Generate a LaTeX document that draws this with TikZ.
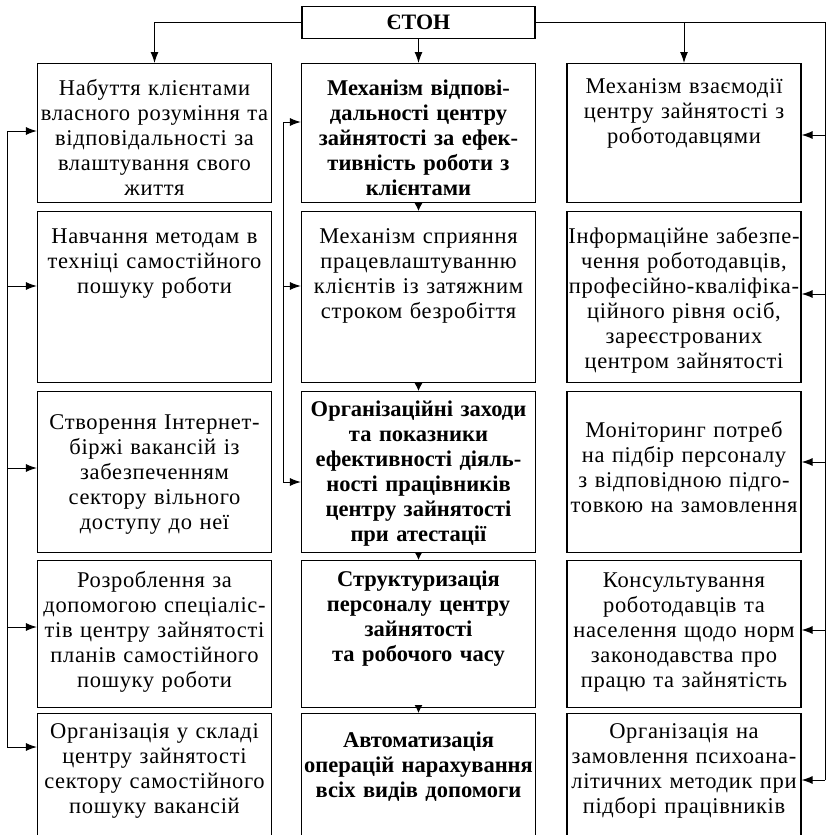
\documentclass[tikz,border=0pt]{standalone}
\usepackage{fontspec}
\setmainfont{Liberation Serif}[LetterSpace=3,BoldFeatures={LetterSpace=0}]
\usetikzlibrary{arrows.meta}

\begin{document}
\begin{tikzpicture}[x=1pt,y=-1pt,
	box/.style={draw,line width=1.2pt,inner ysep=0pt,inner xsep=-4pt,text width=242pt,align=center,anchor=north,font=\fontsize{22.5}{25}\selectfont},
	bbox/.style={box,font=\fontsize{22.5}{25}\selectfont\bfseries},
	ln/.style={line width=1pt},
	arr/.style={line width=1pt,-{Latex[length=11pt,width=8pt]}},
	tip/.style={line width=1pt,-{Latex[length=8pt,width=8pt]}}]
	\useasboundingbox (0,0) rectangle (833,835);
	\clip (0,0) rectangle (833,835);

	% head
	\node[draw,line width=1.2pt,inner sep=0pt,minimum width=233pt,minimum height=32pt,font=\fontsize{22}{25}\selectfont\bfseries] (eton) at (418.5,22.5) {ЄТОН};

	% left column
	\node[box,text height=32pt,text depth=107pt] (l1) at (154.5,63) {Набуття клієнтами\\ власного розуміння та\\ відповідальності за\\ влаштування свого\\ життя};
	\node[box,text height=32pt,text depth=139pt] (l2) at (154.5,211) {Навчання методам в\\ техніці самостійного\\ пошуку роботи};
	\node[box,text height=38pt,text depth=123pt] (l3) at (154.5,391) {Створення Інтернет-\\ біржі вакансій із\\ забезпеченням\\ сектору вільного\\ доступу до неї};
	\node[box,text height=27pt,text depth=120pt] (l4) at (154.5,560) {Розроблення за\\ допомогою спеціаліс-\\ тів центру зайнятості\\ планів самостійного\\ пошуку роботи};
	\node[box,text height=25pt,text depth=125pt] (l5) at (154.5,713) {Організація у складі\\ центру зайнятості\\ сектору самостійного\\ пошуку вакансій};

	% centre column
	\node[bbox,text height=32pt,text depth=107pt] (c1) at (418.5,63) {Механізм відпові-\\ дальності центру\\ зайнятості за ефек-\\ тивність роботи з\\ клієнтами};
	\node[box,text height=32pt,text depth=139pt] (c2) at (418.5,211) {Механізм сприяння\\ працевлаштуванню\\ клієнтів із затяжним\\ строком безробіття};
	\node[bbox,text height=25pt,text depth=136pt] (c3) at (418.5,391) {Організаційні заходи\\ та показники\\ ефективності діяль-\\ ності працівників\\ центру зайнятості\\ при атестації};
	\node[bbox,text height=26pt,text depth=121pt] (c4) at (418.5,560) {Структуризація\\ персоналу центру\\ зайнятості\\ та робочого часу};
	\node[bbox,text height=34pt,text depth=116pt] (c5) at (418.5,713) {Автоматизація\\ операцій нарахування\\ всіх видів допомоги};

	% right column
	\node[box,text height=30pt,text depth=109pt] (r1) at (684,63) {Механізм взаємодії\\ центру зайнятості з\\ роботодавцями};
	\node[box,text height=32pt,text depth=139pt] (r2) at (684,211) {Інформаційне забезпе-\\ чення роботодавців,\\ професійно-кваліфіка-\\ ційного рівня осіб,\\ зареєстрованих\\ центром зайнятості};
	\node[box,text height=46pt,text depth=115pt] (r3) at (684,391) {Моніторинг потреб\\ на підбір персоналу\\ з відповідною підго-\\ товкою на замовлення};
	\node[box,text height=27pt,text depth=120pt] (r4) at (684,560) {Консультування\\ роботодавців та\\ населення щодо норм\\ законодавства про\\ працю та зайнятість};
	\node[box,text height=25pt,text depth=125pt] (r5) at (684,713) {Організація на\\ замовлення психоана-\\ літичних методик при\\ підборі працівників};

	% bus points
	\coordinate (lb1) at (7,131);
	\coordinate (lb2) at (7,286);
	\coordinate (lb3) at (7,468);
	\coordinate (lb4) at (7,627);
	\coordinate (lb5) at (7,747);
	\coordinate (cb1) at (283,122);
	\coordinate (cb2) at (283,286);
	\coordinate (cb3) at (283,482);
	\coordinate (rb1) at (825,135);
	\coordinate (rb2) at (825,294);
	\coordinate (rb3) at (825,462);
	\coordinate (rb4) at (825,630);
	\coordinate (rb5) at (825,780);

	% connectors
	\draw[arr] (eton.west) -| (l1.north);
	\draw[arr] (eton.south) -- (c1.north);
	\draw[arr] (eton.east -| r1.north) -- (r1.north);
	\draw[ln] (eton.east) -| (rb5);
	\draw[ln] (lb1) -- (lb5);
	\draw[ln] (cb1) -- (cb3);
	\foreach \i in {1,...,5} \draw[arr] (lb\i) -- (lb\i -| l\i.west);
	\foreach \i in {1,...,5} \draw[arr] (rb\i) -- (rb\i -| r\i.east);
	\foreach \i in {1,2,3} \draw[arr] (cb\i) -- (cb\i -| c\i.west);
	\foreach \i/\j in {1/2,2/3,3/4,4/5} \draw[tip] (c\i.south) -- (c\j.north);
\end{tikzpicture}
\end{document}
